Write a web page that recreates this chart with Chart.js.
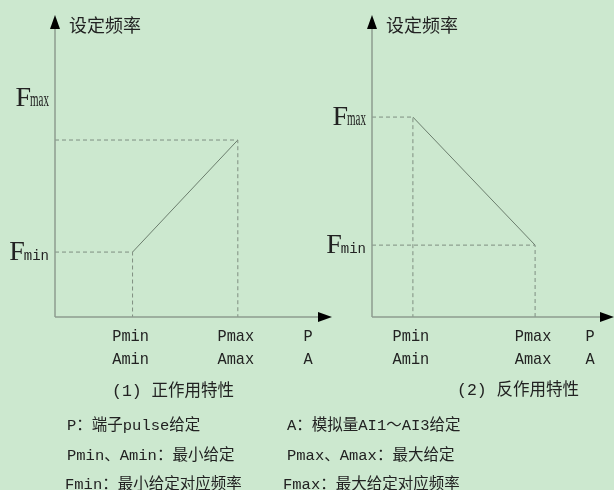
<!DOCTYPE html>
<html>
<head>
<meta charset="utf-8">
<script src="https://cdn.jsdelivr.net/npm/chart.js@4/dist/chart.umd.min.js"></script>
<style>
    body { margin: 0; background: #cce8cf; }
    #wrap { position: relative; width: 614px; height: 490px; overflow: hidden; background: #cce8cf; }
    canvas { position: absolute; top: 0; }
    .txt {
        position: absolute;
        font-family: "Liberation Mono", "Noto Sans CJK SC", monospace;
        font-size: 15.5px;
        line-height: 16px;
        color: #222;
        white-space: nowrap;
    }
    .cap { font-size: 16.5px; }
</style>
</head>
<body>
<div id="wrap">
    <canvas id="posChart" width="345" height="490" style="left:0"></canvas>
    <canvas id="negChart" width="294" height="490" style="left:320px"></canvas>

    <div class="txt cap" style="left:112px; top:384px">(1) 正作用特性</div>
    <div class="txt cap" style="left:457px; top:383px">(2) 反作用特性</div>

    <div class="txt" style="left:67px; top:418px">P：端子pulse给定</div>
    <div class="txt" style="left:67px; top:448px">Pmin、Amin：最小给定</div>
    <div class="txt" style="left:65px; top:477px">Fmin：最小给定对应频率</div>

    <div class="txt" style="left:287px; top:418px">A：模拟量AI1～AI3给定</div>
    <div class="txt" style="left:287px; top:448px">Pmax、Amax：最大给定</div>
    <div class="txt" style="left:283px; top:477px">Fmax：最大给定对应频率</div>
</div>

<script>
// both axes run 0..10 (arrow tip = 10)
const xTickNames = ["Pmin", "Pmax"];
const xTickNames2 = ["Amin", "Amax"];
const yTickSubs = ["min", "max"];

// (1) 正作用特性
const posP = [2.8, 6.6];
const posF = [2.15, 5.86];
const posYTicks = [2.15, 7.25]; // Fmax label sits above the dashed line in the original

// (2) 反作用特性
const negP = [1.69, 6.74];
const negF = [6.62, 2.38];
const negYTicks = [2.38, 6.62];

const guideColor = "#7f8e81";
const curveColor = "#6b7d6d";

// dashed guide: axis -> point -> axis
const guides = (ps, fs) => {
    return ps.map((p, i) => ({
        data: [{ x: 0, y: fs[i] }, { x: p, y: fs[i] }, { x: p, y: 0 }],
        showLine: true,
        borderColor: guideColor,
        borderWidth: 1,
        borderDash: [4, 3],
        pointRadius: 0,
    }));
};

const axisDecor = {
    id: "axisDecor",
    afterDatasetsDraw(chart, args, opts) {
        const { ctx, chartArea: a, scales: { x, y } } = chart;
        ctx.save();

        // axes
        ctx.strokeStyle = "#8d9c90";
        ctx.lineWidth = 1.5;
        ctx.beginPath();
        ctx.moveTo(a.left, a.bottom);
        ctx.lineTo(a.left, a.top + 14);
        ctx.moveTo(a.left, a.bottom);
        ctx.lineTo(a.right - 14, a.bottom);
        ctx.stroke();

        // arrow heads
        ctx.fillStyle = "#000";
        ctx.beginPath();
        ctx.moveTo(a.left, a.top);
        ctx.lineTo(a.left - 5, a.top + 14);
        ctx.lineTo(a.left + 5, a.top + 14);
        ctx.fill();
        ctx.beginPath();
        ctx.moveTo(a.right, a.bottom);
        ctx.lineTo(a.right - 14, a.bottom - 5);
        ctx.lineTo(a.right - 14, a.bottom + 5);
        ctx.fill();

        ctx.fillStyle = "#222";

        // axis title
        ctx.font = '18px "Noto Sans CJK SC"';
        ctx.textAlign = "left";
        ctx.textBaseline = "middle";
        ctx.fillText("设定频率", a.left + 14, a.top + 10);

        // y labels: big F + small subscript, right aligned to the axis
        ctx.textBaseline = "alphabetic";
        opts.yTicks.forEach((v, i) => {
            const py = y.getPixelForValue(v) + 8;
            const sub = yTickSubs[i];
            const subFont = sub === "max" ? '20px "Liberation Serif"' : '14px "Liberation Mono"';
            const subScale = sub === "max" ? 0.55 : 1;
            ctx.font = subFont;
            const subW = ctx.measureText(sub).width * subScale;
            ctx.font = '28px "Liberation Serif"';
            const fW = ctx.measureText("F").width;
            const right = a.left - 6;
            ctx.textAlign = "left";
            ctx.fillText("F", right - subW - fW + 1, py);
            ctx.save();
            ctx.font = subFont;
            ctx.translate(right - subW, py);
            ctx.scale(subScale, 1);
            ctx.fillText(sub, 0, 0);
            ctx.restore();
        });

        // x labels (tall, slightly narrow glyphs)
        ctx.textAlign = "center";
        const tick = (s, px, py) => {
            ctx.save();
            ctx.font = '17px "Liberation Mono"';
            ctx.translate(px, py);
            ctx.scale(0.9, 1);
            ctx.fillText(s, 0, 0);
            ctx.restore();
        };
        opts.xTicks.forEach((v, i) => {
            const px = x.getPixelForValue(v) - 2;
            tick(xTickNames[i], px, a.bottom + 24);
            tick(xTickNames2[i], px, a.bottom + 47);
        });
        tick("P", a.right - 24, a.bottom + 24);
        tick("A", a.right - 24, a.bottom + 47);

        ctx.restore();
    },
};

const makeChart = (id, ps, fs, yTicks, padding) => {
    return new Chart(document.getElementById(id).getContext("2d"), {
        type: "scatter",
        data: {
            datasets: [
                ...guides(ps, fs),
                {
                    data: ps.map((p, i) => ({ x: p, y: fs[i] })),
                    showLine: true,
                    borderColor: curveColor,
                    borderWidth: 1,
                    pointRadius: 0,
                },
            ],
        },
        options: {
            responsive: false,
            animation: false,
            layout: { padding: padding },
            scales: {
                x: { type: "linear", min: 0, max: 10, display: false },
                y: { type: "linear", min: 0, max: 10, display: false },
            },
            plugins: {
                legend: { display: false },
                tooltip: { enabled: false },
                axisDecor: { xTicks: ps, yTicks: yTicks },
            },
        },
        plugins: [axisDecor],
    });
};

makeChart("posChart", posP, posF, posYTicks, { left: 55, top: 15, right: 13, bottom: 173 });
makeChart("negChart", negP, negF, negYTicks, { left: 52, top: 15, right: 0, bottom: 173 });
</script>
</body>
</html>
